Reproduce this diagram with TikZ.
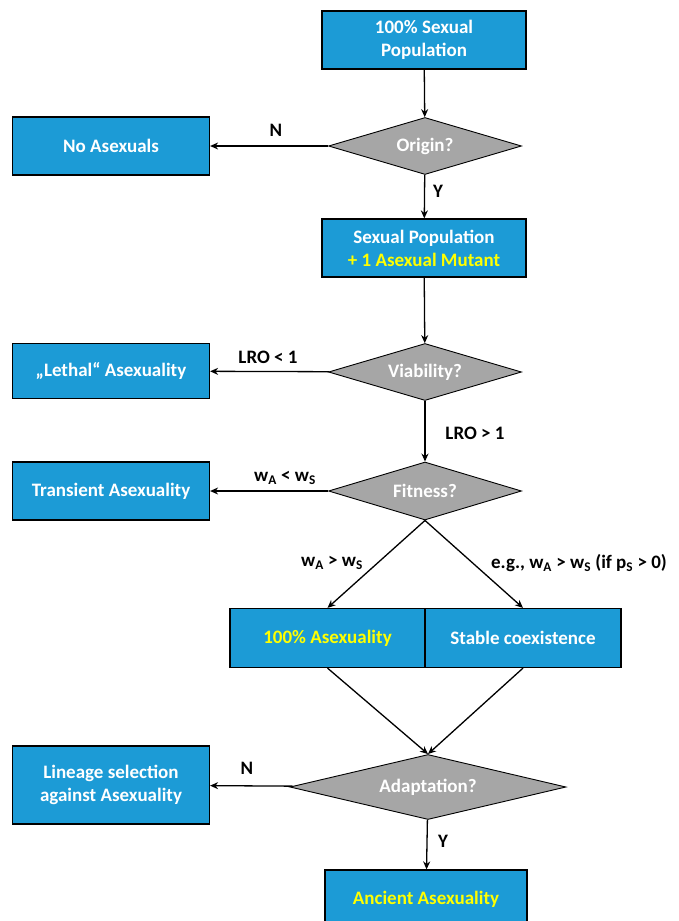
\documentclass[tikz,border=0pt]{standalone}
\usepackage{fontspec}
\setmainfont{Carlito}
\usetikzlibrary{arrows.meta,shapes.geometric}
\definecolor{boxblue}{RGB}{28,155,214}
\definecolor{querygray}{RGB}{166,166,166}
\definecolor{markyellow}{RGB}{255,255,0}

\begin{document}
\begin{tikzpicture}[x=1pt,y=-1pt,
  every node/.style={font=\fontsize{19}{23}\selectfont\bfseries},
  state/.style={draw,line width=1.2pt,fill=boxblue,text=white,align=center,
    minimum width=197pt,minimum height=57pt,inner sep=0pt},
  query/.style={draw,line width=0.9pt,fill=querygray,text=white,diamond,
    aspect=3.4,minimum width=193pt,minimum height=57pt,inner sep=0pt},
  flow/.style={line width=1.3pt,-{Stealth[length=8pt,width=7pt]}}]
  \useasboundingbox (0,0) rectangle (679,921);
  \clip (0,0) rectangle (679,921);
  \node[state,minimum width=204pt,minimum height=58pt] (sexual) at (424,40) {100\% Sexual\\Population};
  \node[query] (origin) at (425,146) {Origin?};
  \node[state,minimum height=58pt] (noasex) at (111,146) {No Asexuals};
  \node[state,minimum width=204pt,minimum height=58pt] (mutant) at (424,248)
    {Sexual Population\\\textcolor{markyellow}{+ 1 Asexual Mutant}};
  \node[query] (viability) at (425,372) {Viability?};
  \node[state,minimum height=55pt] (lethal) at (111,371) {„Lethal“ Asexuality};
  \node[query,minimum height=58pt] (fitness) at (425,491) {Fitness?};
  \node[state,minimum height=58pt] (transient) at (111,491) {Transient Asexuality};
  \node[state,minimum width=195pt,minimum height=59pt,text=markyellow] (allasex) at (327.5,638) {100\% Asexuality};
  \node[state,minimum width=196pt,minimum height=59pt] (coexist) at (523,638) {Stable coexistence};
  \node[query,minimum width=276pt,minimum height=65pt,aspect=4.2] (adapt) at (428,787) {Adaptation?};
  \node[state,minimum height=78pt] (lineage) at (111,785) {Lineage selection\\against Asexuality};
  \node[state,minimum width=202pt,minimum height=58pt,text=markyellow] (ancient) at (426,899) {Ancient Asexuality};

  \draw[flow] (sexual) -- (origin);
  \draw[flow] (origin) -- (noasex);
  \draw[flow] (origin) -- (mutant);
  \draw[flow] (mutant) -- (viability);
  \draw[flow] (viability) -- (lethal);
  \draw[flow] (viability) -- (fitness);
  \draw[flow] (fitness) -- (transient);
  \draw[flow] (fitness.south) -- (allasex.north);
  \draw[flow] (fitness.south) -- (coexist.north);
  \draw[flow] (allasex.south) -- (adapt.north);
  \draw[flow] (coexist.south) -- (adapt.north);
  \draw[flow] (adapt) -- (lineage);
  \draw[flow] (adapt) -- (ancient);

  \node (originno) at (276,130) {N};
  \node (originyes) at (438,191) {Y};
  \node (lrolow) at (268,357) {LRO < 1};
  \node (lrohigh) at (475,433) {LRO > 1};
  \node (fitlow) at (285,478) {w\textsubscript{A} < w\textsubscript{S}};
  \node (fithigh) at (332,563) {w\textsubscript{A} > w\textsubscript{S}};
  \node (fitmixed) at (579,563) {e.g., w\textsubscript{A} > w\textsubscript{S} (if p\textsubscript{S} > 0)};
  \node (adaptno) at (247,768) {N};
  \node (adaptyes) at (443,841) {Y};
\end{tikzpicture}
\end{document}
